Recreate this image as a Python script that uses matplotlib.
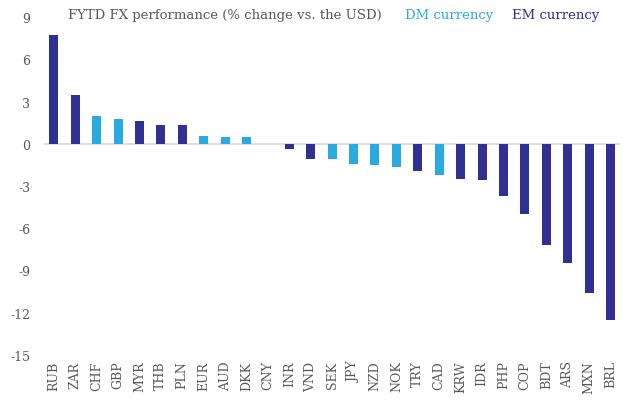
import matplotlib
matplotlib.use("Agg")
import matplotlib.pyplot as plt

# dados
moedas = ["RUB", "ZAR", "CHF", "GBP", "MYR", "THB", "PLN", "EUR", "AUD", "DKK",
          "CNY", "INR", "VND", "SEK", "JPY", "NZD", "NOK", "TRY", "CAD", "KRW",
          "IDR", "PHP", "COP", "BDT", "ARS", "MXN", "BRL"]
variacao = [7.7, 3.45, 1.95, 1.75, 1.6, 1.35, 1.3, 0.52, 0.45, 0.45,
            0.0, -0.4, -1.05, -1.07, -1.42, -1.54, -1.66, -1.93, -2.2, -2.5,
            -2.6, -3.7, -5.0, -7.18, -8.5, -10.6, -12.55]
tipo = ["EM", "EM", "DM", "DM", "EM", "EM", "EM", "DM", "DM", "DM",
        "EM", "EM", "EM", "DM", "DM", "DM", "DM", "EM", "DM", "EM",
        "EM", "EM", "EM", "EM", "EM", "EM", "EM"]
yticks = [9, 6, 3, 0, -3, -6, -9, -12, -15]

cores = {"DM": "#29abe2", "EM": "#2e3192"}
cinza = "#595959"

plt.rcParams["font.family"] = ["DejaVu Serif"]

fig = plt.figure(figsize=(6.4, 4.1), dpi=100)
ax = fig.add_axes([0.069, 0.132, 0.9, 0.824])

x = list(range(len(moedas)))
ax.bar(x, variacao, width=0.42, color=[cores[t] for t in tipo], zorder=2)
ax.axhline(0, color="#d9d9d9", lw=1.2, zorder=1)

ax.set_xlim(-0.45, len(moedas) - 0.55)
ax.set_ylim(-15, 9)
ax.set_yticks(yticks)
ax.set_yticklabels([str(v) for v in yticks])
ax.set_xticks(x)
ax.set_xticklabels(moedas, rotation=90)
ax.tick_params(axis="both", length=0, colors=cinza, labelsize=9)
ax.tick_params(axis="y", pad=10)
ax.tick_params(axis="x", pad=4)
for s in ax.spines.values():
    s.set_visible(False)

fig.text(0.106, 0.962, "FYTD FX performance (% change vs. the USD)",
         color=cinza, fontsize=9.5, va="center")
fig.text(0.633, 0.962, "DM currency", color=cores["DM"], fontsize=9.5, va="center")
fig.text(0.80, 0.962, "EM currency", color=cores["EM"], fontsize=9.5, va="center")

fig.savefig("out.png", dpi=100)
